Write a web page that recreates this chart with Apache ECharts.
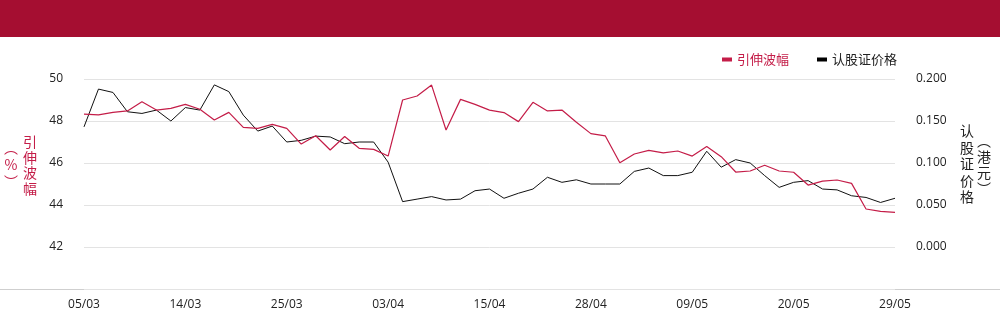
<!DOCTYPE html>
<html>
<head>
<meta charset="utf-8">
<script src="https://cdn.jsdelivr.net/npm/echarts@6/dist/echarts.min.js"></script>
<style>
html,body{margin:0;padding:0;background:#fff;}
#chart{width:1000px;height:324px;}
</style>
</head>
<body>
<div id="chart"></div>
<script>
const dates = ['05/03','06/03','07/03','10/03','11/03','12/03','13/03',
'14/03','17/03','18/03','19/03','20/03','21/03','24/03',
'25/03','26/03','27/03','28/03','31/03','01/04','02/04',
'03/04','07/04','08/04','09/04','10/04','11/04','14/04',
'15/04','16/04','17/04','22/04','23/04','24/04','25/04',
'28/04','29/04','30/04','02/05','06/05','07/05','08/05',
'09/05','12/05','13/05','14/05','15/05','16/05','19/05',
'20/05','21/05','22/05','23/05','26/05','27/05','28/05',
'29/05'];

const impliedVol = [48.33,48.29,48.41,48.48,48.92,48.52,48.60,
48.79,48.56,48.05,48.41,47.70,47.65,47.84,
47.65,46.90,47.30,46.62,47.26,46.70,46.65,
46.33,49.00,49.19,49.71,47.57,49.03,48.79,
48.52,48.40,47.97,48.89,48.48,48.52,47.94,
47.40,47.29,46.01,46.43,46.60,46.48,46.57,
46.33,46.79,46.30,45.57,45.62,45.89,45.62,
45.56,44.95,45.14,45.19,45.03,43.81,43.70,
43.65];

const warrantPrice = [0.143,0.188,0.184,0.161,0.159,0.163,0.150,
0.166,0.163,0.193,0.185,0.157,0.138,0.144,
0.125,0.127,0.132,0.131,0.123,0.125,0.125,
0.101,0.054,0.057,0.060,0.056,0.057,0.067,
0.069,0.058,0.064,0.069,0.083,0.077,0.080,
0.075,0.075,0.075,0.090,0.094,0.085,0.085,
0.089,0.114,0.095,0.104,0.100,0.085,0.071,
0.077,0.079,0.069,0.068,0.061,0.059,0.053,
0.058];

const seriesNames = ['引伸波幅','认股证价格'];
const leftAxisName = '引伸波幅';
const leftAxisUnit = '︵%︶';
const rightAxisName = '认股证价格';
const rightAxisUnit = '︵港元︶';

const RED = '#C41D48';
const BANNER = '#A50E31';
const vert = s => Array.from(s).join('\n');

const chart = echarts.init(document.getElementById('chart'), null, {renderer:'canvas'});
chart.setOption({
  animation:false,
  backgroundColor:'#fff',
  textStyle:{fontFamily:'"Open Sans","Noto Sans CJK SC",sans-serif'},
  grid:{left:84,right:105,top:79,bottom:35,containLabel:false},
  legend:{
    left:717, top:48,
    icon:'rect', itemWidth:10, itemHeight:4, itemGap:28,
    textStyle:{fontSize:13,fontFamily:'"Noto Sans CJK SC",sans-serif'},
    data:[
      {name:seriesNames[0], textStyle:{color:RED}},
      {name:seriesNames[1], textStyle:{color:'#222'}}
    ]
  },
  xAxis:{
    type:'category', data:dates, boundaryGap:false,
    axisLine:{show:false}, axisTick:{show:false},
    axisLabel:{interval:6, margin:10, color:'#222', fontSize:12, fontFamily:'"Open Sans",sans-serif'}
  },
  yAxis:[
    {type:'value', min:40, max:50, interval:2, position:'left',
     axisLine:{show:false}, axisTick:{show:false},
     splitLine:{lineStyle:{color:'#e3e3e3',width:1}},
     axisLabel:{margin:21, color:'#222', fontSize:12,
       formatter:v=> v<=40 ? '' : String(v)}},
    {type:'value', min:-0.05, max:0.2, interval:0.05, position:'right',
     axisLine:{show:false}, axisTick:{show:false},
     splitLine:{show:false},
     axisLabel:{margin:21, color:'#222', fontSize:12, align:'left',
       formatter:v=> v< -0.001 ? '' : v.toFixed(3)}}
  ],
  series:[
    {name:seriesNames[0], type:'line', yAxisIndex:0, data:impliedVol,
     symbol:'none', color:RED, lineStyle:{width:1.2,color:RED}, z:3},
    {name:seriesNames[1], type:'line', yAxisIndex:1, data:warrantPrice,
     symbol:'none', color:'#000', lineStyle:{width:1,color:'#111'}, z:2}
  ],
  graphic:[
    {type:'rect', left:0, top:0, shape:{width:1000,height:37}, style:{fill:BANNER}, silent:true},
    {type:'line', shape:{x1:0,y1:289.5,x2:1000,y2:289.5}, style:{stroke:'#cfcfcf',lineWidth:1}, silent:true},
    {type:'text', x:30, y:165, style:{text:vert(leftAxisName), fill:RED, fontSize:14, lineHeight:15.5,
      align:'center', verticalAlign:'middle', fontFamily:'"Noto Sans CJK SC",sans-serif'}},
    {type:'text', x:11, y:165, style:{text:vert(leftAxisUnit), fill:RED, fontSize:14, lineHeight:17,
      align:'center', verticalAlign:'middle', fontFamily:'"Noto Sans CJK SC",sans-serif'}},
    {type:'text', x:967, y:164, style:{text:vert(rightAxisName), fill:'#222', fontSize:14, lineHeight:16.5,
      align:'center', verticalAlign:'middle', fontFamily:'"Noto Sans CJK SC",sans-serif'}},
    {type:'text', x:984, y:165, style:{text:vert(rightAxisUnit), fill:'#222', fontSize:14, lineHeight:16,
      align:'center', verticalAlign:'middle', fontFamily:'"Noto Sans CJK SC",sans-serif'}}
  ]
});
</script>
</body>
</html>
